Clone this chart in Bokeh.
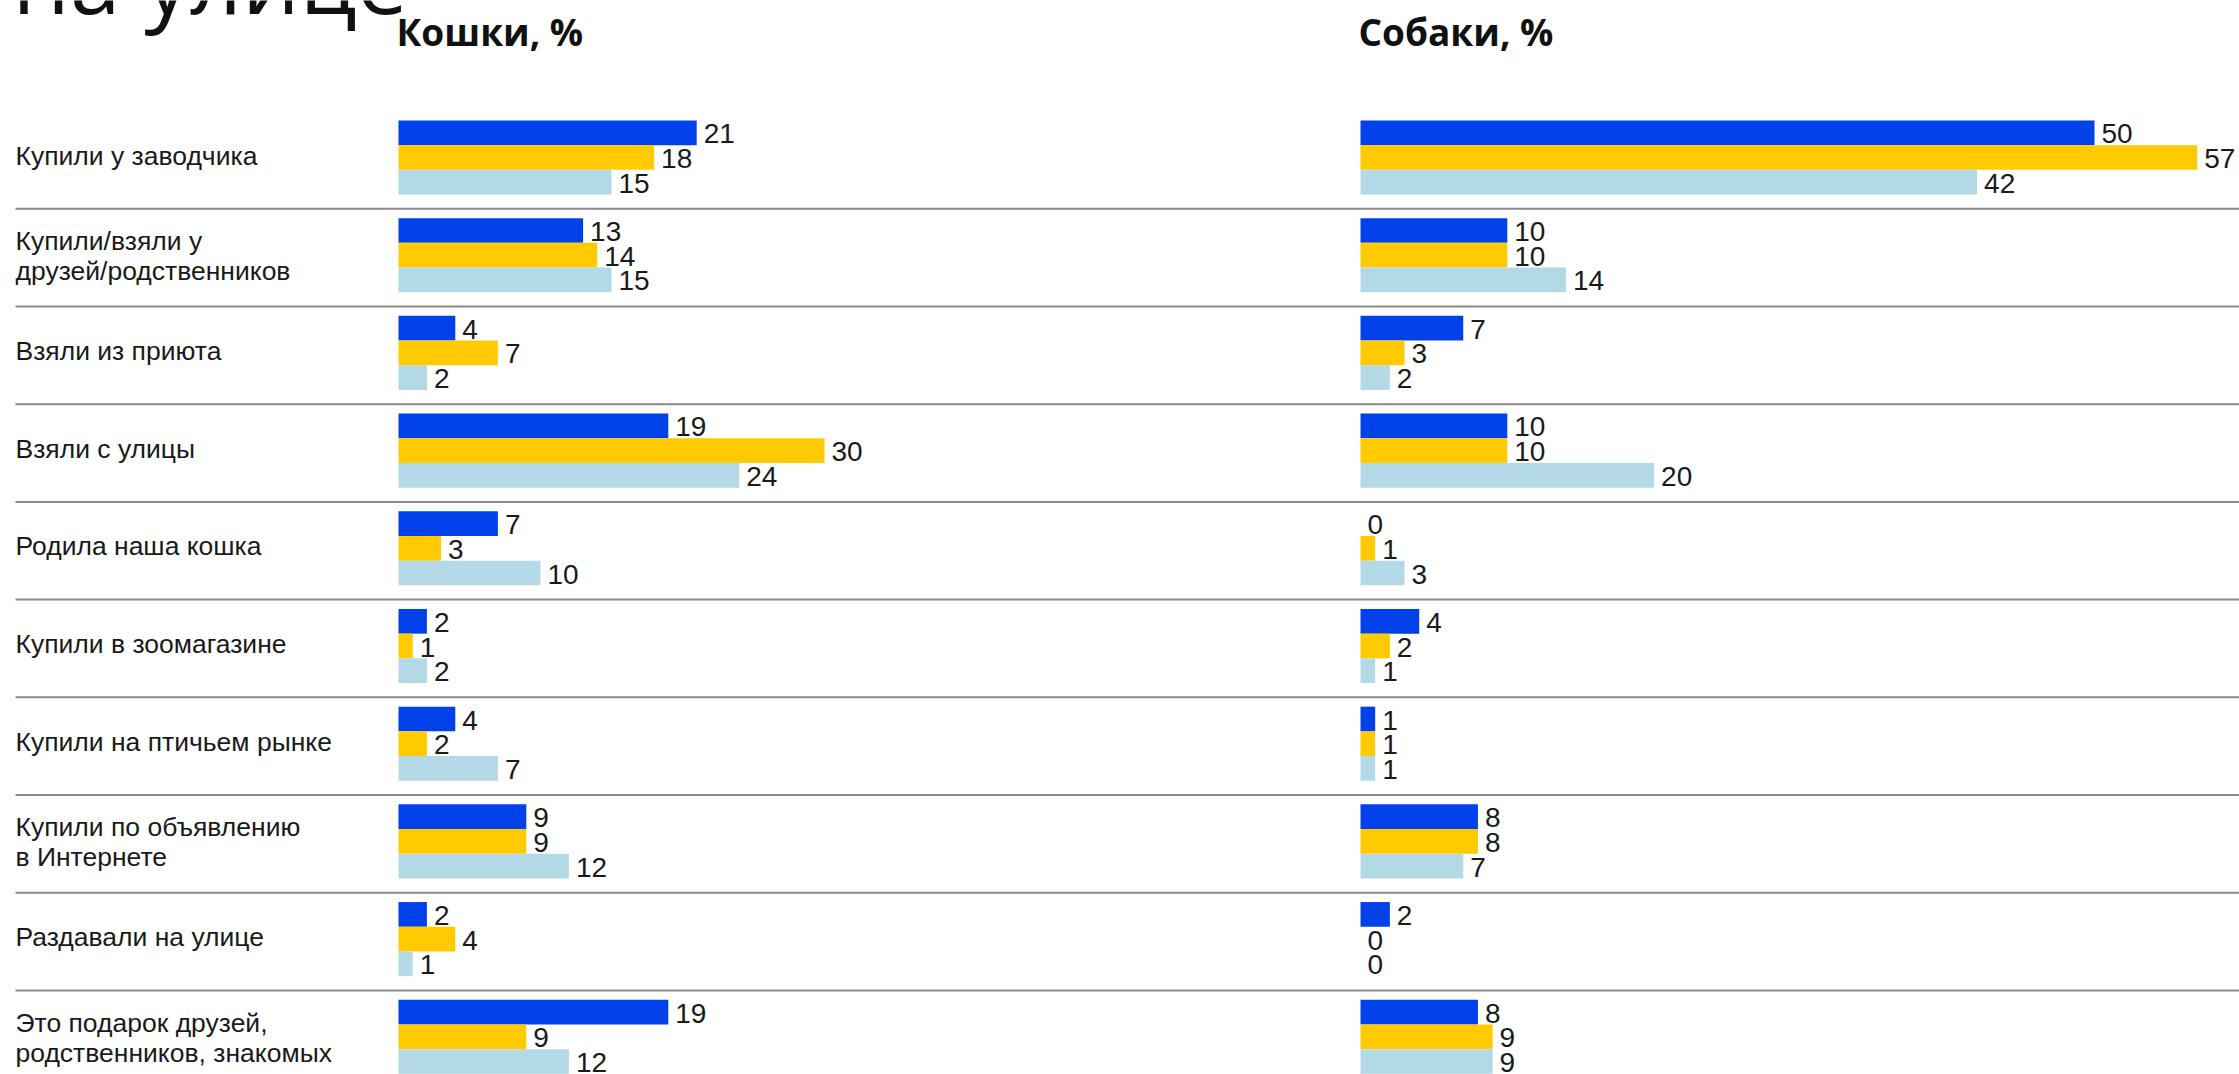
from bokeh.plotting import figure
from bokeh.models import ColumnDataSource, Range1d
from bokeh.transform import dodge
from bokeh.core.properties import value
from bokeh.embed import file_html
from bokeh.resources import INLINE

# ---------------- data ----------------
categories = [
    "Купили у заводчика",
    "Купили/взяли у\nдрузей/родственников",
    "Взяли из приюта",
    "Взяли с улицы",
    "Родила наша кошка",
    "Купили в зоомагазине",
    "Купили на птичьем рынке",
    "Купили по объявлению\nв Интернете",
    "Раздавали на улице",
    "Это подарок друзей,\nродственников, знакомых",
]
cats_s1 = [21, 13, 4, 19, 7, 2, 4, 9, 2, 19]
cats_s2 = [18, 14, 7, 30, 3, 1, 2, 9, 4, 9]
cats_s3 = [15, 15, 2, 24, 10, 2, 7, 12, 1, 12]
dogs_s1 = [50, 10, 7, 10, 0, 4, 1, 8, 2, 8]
dogs_s2 = [57, 10, 3, 10, 1, 2, 1, 8, 0, 9]
dogs_s3 = [42, 14, 2, 20, 3, 1, 1, 7, 0, 9]

title_text = "на улице"
cats_header = "Кошки, %"
dogs_header = "Собаки, %"

# ---------------- layout (pixels) ----------------
W, H = 2239, 1074
CATS_ZERO_PX, CATS_K = 398.0, 14.2     # px of value 0, px per unit
DOGS_ZERO_PX, DOGS_K = 1360.0, 14.68
ROW0_PX, ROW_PX = 157.0, 97.7          # centre of first group, row pitch
BAR_PX = 24.7
LINE_PX = 30.0                          # line pitch of two-line labels

def cx(px):
    return (px - CATS_ZERO_PX) / CATS_K

def ry(px):
    return (px - ROW0_PX) / ROW_PX

BAR = BAR_PX / ROW_PX

COLORS = ["#0041EA", "#FFCB00", "#B3D9E6"]
TEXT_COLOR = "#1a1a1a"

rows = list(range(len(categories)))
src = ColumnDataSource(dict(
    row=rows,
    cats_s1=cats_s1, cats_s2=cats_s2, cats_s3=cats_s3,
    dogs_s1=dogs_s1, dogs_s2=dogs_s2, dogs_s3=dogs_s3,
    cats_s1_t=[str(v) for v in cats_s1],
    cats_s2_t=[str(v) for v in cats_s2],
    cats_s3_t=[str(v) for v in cats_s3],
    dogs_s1_t=[str(v) for v in dogs_s1],
    dogs_s2_t=[str(v) for v in dogs_s2],
    dogs_s3_t=[str(v) for v in dogs_s3],
    sep_y=[r + (51.3 / ROW_PX) for r in rows],
    sep_x0=[cx(15)] * len(categories),
    sep_x1=[cx(W + 5)] * len(categories),
))

# category labels, one entry per text line
lab_row, lab_txt, lab_off = [], [], []
for i, cat in enumerate(categories):
    lines = cat.split("\n")
    n = len(lines)
    for j, line in enumerate(lines):
        lab_row.append(i)
        lab_txt.append(line)
        lab_off.append(-2 if n == 1 else (j - (n - 1) / 2) * LINE_PX + 1)
lab_src = ColumnDataSource(dict(row=lab_row, text=lab_txt, yoff=lab_off,
                                x=[cx(15)] * len(lab_row)))

p = figure(
    width=W, height=H,
    x_range=Range1d(cx(0), cx(W)),
    y_range=Range1d(ry(H), ry(0)),
    output_backend="svg", toolbar_location=None,
    x_axis_location=None, y_axis_location=None,
    min_border=0, min_border_left=0, min_border_right=0,
    min_border_top=0, min_border_bottom=0,
)
p.extra_x_ranges = {"dogs": Range1d((0 - DOGS_ZERO_PX) / DOGS_K, (W - DOGS_ZERO_PX) / DOGS_K)}
p.grid.visible = False
p.outline_line_color = None
p.background_fill_color = "white"
p.border_fill_color = "white"

# separators
p.segment(x0="sep_x0", x1="sep_x1", y0="sep_y", y1="sep_y", source=src,
          line_color="#8a8a8a", line_width=2)

offsets = [-BAR, 0.0, BAR]
for side, rname in (("cats", "default"), ("dogs", "dogs")):
    for k in range(3):
        col = f"{side}_s{k+1}"
        yv = dodge("row", offsets[k], range=p.y_range)
        p.hbar(y=yv, left=0, right=col, height=BAR, source=src,
               fill_color=COLORS[k], line_color=None, x_range_name=rname)
        p.text(x=col, y=yv, text=f"{col}_t", source=src, x_range_name=rname,
               x_offset=7, y_offset=1, text_baseline="middle", text_align="left",
               text_font=value("Liberation Sans"), text_font_size="28px",
               text_color=TEXT_COLOR)

# category labels
p.text(x="x", y="row", text="text", source=lab_src, y_offset="yoff",
       text_baseline="middle", text_align="left",
       text_font=value("Liberation Sans"), text_font_size="26.5px",
       text_color=TEXT_COLOR)

# headers
p.text(x=[0], y=[ry(30.5)], text=[cats_header], x_offset=-2,
       text_baseline="middle", text_font=value("Open Sans"),
       text_font_style="bold", text_font_size="37px", text_color="#111111")
p.text(x=[0], y=[ry(30.5)], text=[dogs_header], x_offset=-2, x_range_name="dogs",
       text_baseline="middle", text_font=value("Open Sans"),
       text_font_style="bold", text_font_size="37px", text_color="#111111")

# big title, cut off at the top
p.text(x=[cx(12)], y=[ry(40)], text=[title_text],
       text_baseline="bottom", text_font=value("Open Sans"),
       text_font_size="91px", text_color="#111111")

open("out.html", "w").write(file_html(p, INLINE))
